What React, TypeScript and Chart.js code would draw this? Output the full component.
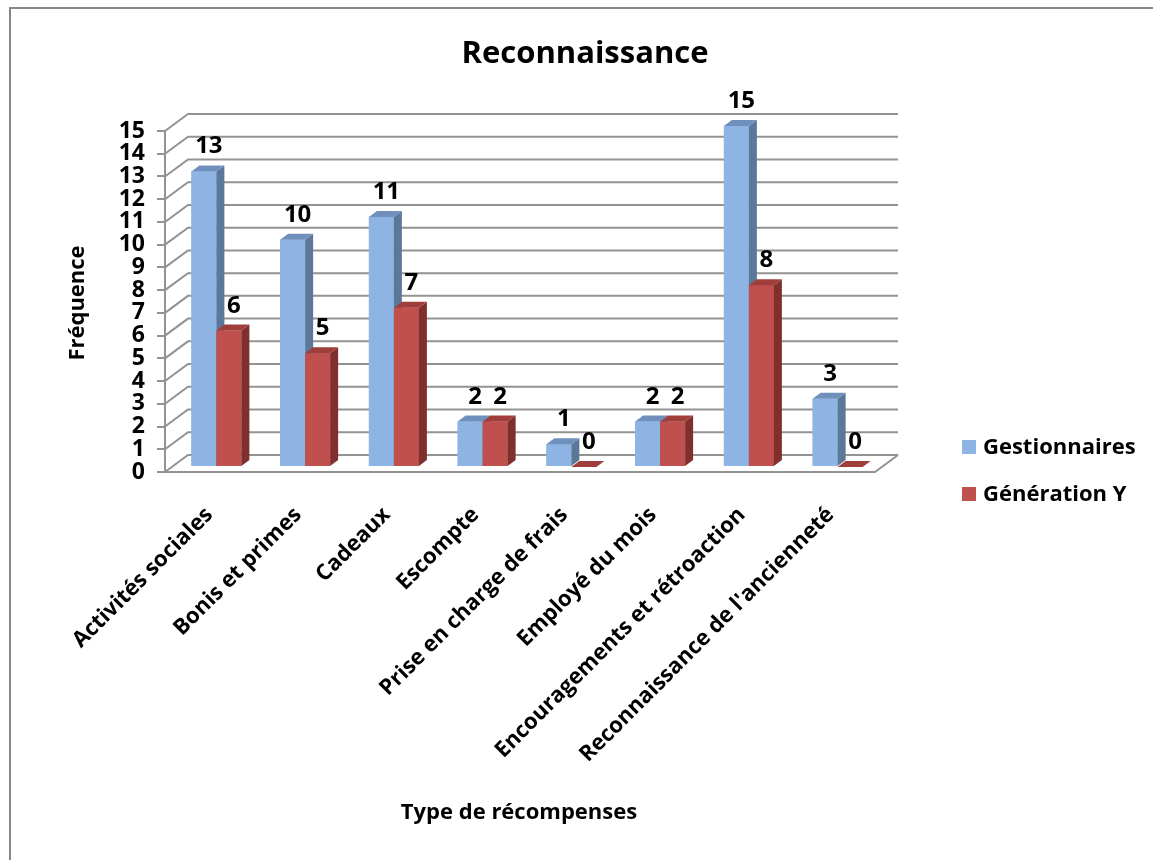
import React, { useEffect, useRef } from 'react';
import { Chart, registerables } from 'chart.js';

Chart.register(...registerables);

const categories = [
  'Activités sociales',
  'Bonis et primes',
  'Cadeaux',
  'Escompte',
  'Prise en charge de frais',
  'Employé du mois',
  'Encouragements et rétroaction',
  "Reconnaissance de l'ancienneté",
];
const gestionnaires = [13, 10, 11, 2, 1, 2, 15, 3];
const generationY = [6, 5, 7, 2, 0, 2, 8, 0];
const seriesNames = ['Gestionnaires', 'Génération Y'];
const yMin = 0;
const yMax = 15;
const yStep = 1;

const chartTitle = 'Reconnaissance';
const yTitle = 'Fréquence';
const xTitle = 'Type de récompenses';

const frontColors = ['#8db4e2', '#c0504d'];
const sideColors = ['#5b7799', '#7f302e'];
const topColors = ['#6f8fbd', '#a03e3b'];

const FONT = '"Open Sans", Lato, sans-serif';

// geometry of the pseudo-3D view
const PLOT = { left: 165, right: 875, top: 131, bottom: 472 };
const WALL_DX = 23;
const WALL_DY = -17;
const BAR_DX = 7;
const BAR_DY = -5;
const DEPTH_DX = 8;
const DEPTH_DY = -6;
const GRID_COLOR = '#939393';

function poly(ctx: CanvasRenderingContext2D, pts: number[][], fill: string) {
  ctx.beginPath();
  ctx.moveTo(pts[0][0], pts[0][1]);
  for (let i = 1; i < pts.length; i++) ctx.lineTo(pts[i][0], pts[i][1]);
  ctx.closePath();
  ctx.fillStyle = fill;
  ctx.fill();
}

const threeDPlugin = {
  id: 'threeD',
  beforeDraw(chart: any) {
    const ctx = chart.ctx as CanvasRenderingContext2D;
    ctx.save();
    ctx.fillStyle = '#ffffff';
    ctx.fillRect(0, 0, chart.width, chart.height);
    ctx.strokeStyle = '#878787';
    ctx.lineWidth = 2;
    ctx.beginPath();
    ctx.moveTo(10, chart.height);
    ctx.lineTo(10, 8);
    ctx.lineTo(chart.width, 8);
    ctx.stroke();
    ctx.restore();
  },
  beforeDatasetsDraw(chart: any) {
    const ctx = chart.ctx as CanvasRenderingContext2D;
    const ys = chart.scales.y;
    const xs = chart.scales.x;
    ctx.save();
    ctx.strokeStyle = GRID_COLOR;
    ctx.lineWidth = 2;
    for (let v = yMin; v <= yMax; v += yStep) {
      const yf = ys.getPixelForValue(v);
      ctx.beginPath();
      ctx.moveTo(xs.left, yf);
      ctx.lineTo(xs.left + WALL_DX, yf + WALL_DY);
      ctx.lineTo(xs.right + WALL_DX, yf + WALL_DY);
      ctx.stroke();
    }
    // floor front and right edges
    const y0 = ys.getPixelForValue(0);
    ctx.beginPath();
    ctx.moveTo(xs.left, y0);
    ctx.lineTo(xs.right, y0);
    ctx.lineTo(xs.right + WALL_DX, y0 + WALL_DY);
    ctx.stroke();
    ctx.restore();
    ctx.save();
    ctx.translate(BAR_DX, BAR_DY);
  },
  afterDatasetsDraw(chart: any) {
    const ctx = chart.ctx as CanvasRenderingContext2D;
    const metas = [chart.getDatasetMeta(0), chart.getDatasetMeta(1)];
    for (let i = 0; i < categories.length; i++) {
      for (let d = 0; d < metas.length; d++) {
        const el = metas[d].data[i];
        const { x, y, base, width } = el.getProps(['x', 'y', 'base', 'width'], true);
        const L = x - width / 2;
        const R = x + width / 2;
        ctx.fillStyle = frontColors[d];
        ctx.fillRect(L, y, width, base - y);
        poly(ctx, [[R, y], [R + DEPTH_DX, y + DEPTH_DY], [R + DEPTH_DX, base + DEPTH_DY], [R, base]], sideColors[d]);
        poly(ctx, [[L, y], [L + DEPTH_DX, y + DEPTH_DY], [R + DEPTH_DX, y + DEPTH_DY], [R, y]], topColors[d]);
      }
    }
    // value labels
    ctx.fillStyle = '#000';
    ctx.font = `bold 24px ${FONT}`;
    ctx.textAlign = 'center';
    ctx.textBaseline = 'alphabetic';
    for (let d = 0; d < metas.length; d++) {
      const vals = chart.data.datasets[d].data;
      metas[d].data.forEach((el: any, i: number) => {
        const { x, y } = el.getProps(['x', 'y'], true);
        ctx.fillText(String(vals[i]), x + DEPTH_DX / 2 + 1, y + DEPTH_DY - 12);
      });
    }
    ctx.restore();

    // titles
    ctx.save();
    ctx.fillStyle = '#000';
    ctx.textAlign = 'center';
    ctx.textBaseline = 'alphabetic';
    ctx.font = `bold 31px ${FONT}`;
    ctx.fillText(chartTitle, 585, 63);
    ctx.font = `bold 22px ${FONT}`;
    ctx.fillText(xTitle, 519, 819);
    ctx.save();
    ctx.translate(84, 303);
    ctx.rotate(-Math.PI / 2);
    ctx.fillText(yTitle, 0, 0);
    ctx.restore();

    // legend
    ctx.textAlign = 'left';
    ctx.font = `bold 22px ${FONT}`;
    const legendY = [440, 487];
    chart.data.datasets.forEach((ds: any, d: number) => {
      ctx.fillStyle = frontColors[d];
      ctx.fillRect(962, legendY[d], 14, 14);
      ctx.fillStyle = '#000';
      ctx.fillText(ds.label, 983, legendY[d] + 14);
    });
    ctx.restore();
  },
};

export default function App() {
  const ref = useRef<HTMLCanvasElement | null>(null);
  useEffect(() => {
    document.body.style.margin = '0';
    const canvas = ref.current;
    if (!canvas) return;
    const chart = new Chart(canvas, {
      type: 'bar',
      data: {
        labels: categories,
        datasets: [
          { label: seriesNames[0], data: gestionnaires, backgroundColor: frontColors[0] },
          { label: seriesNames[1], data: generationY, backgroundColor: frontColors[1] },
        ],
      },
      options: {
        responsive: false,
        animation: false,
        devicePixelRatio: 1,
        layout: { padding: { left: 0, right: 1153 - PLOT.right, top: PLOT.top, bottom: 0 } },
        datasets: { bar: { categoryPercentage: 0.5634, barPercentage: 1, clip: false as any } },
        plugins: { legend: { display: false }, title: { display: false }, tooltip: { enabled: false } },
        scales: {
          x: {
            grid: { display: false },
            border: { display: false },
            ticks: {
              autoSkip: false,
              maxRotation: 45,
              minRotation: 45,
              padding: 22,
              color: '#000',
              font: { family: FONT, size: 22, weight: 'bold' },
            },
            afterFit: (s: any) => { s.height = 860 - PLOT.bottom; },
          },
          y: {
            min: yMin,
            max: yMax,
            ticks: {
              stepSize: yStep,
              autoSkip: false,
              padding: 12,
              color: '#000',
              font: { family: FONT, size: 23, weight: 'bold' },
            },
            grid: { display: true, drawOnChartArea: false, drawTicks: true, tickLength: 8, color: GRID_COLOR, lineWidth: 2 },
            border: { display: true, color: GRID_COLOR, width: 2 },
            afterFit: (s: any) => { s.width = PLOT.left; },
          },
        },
      },
      plugins: [threeDPlugin],
    });
    return () => chart.destroy();
  }, []);
  return <canvas ref={ref} width={1153} height={860} style={{ display: 'block' }} />;
}
